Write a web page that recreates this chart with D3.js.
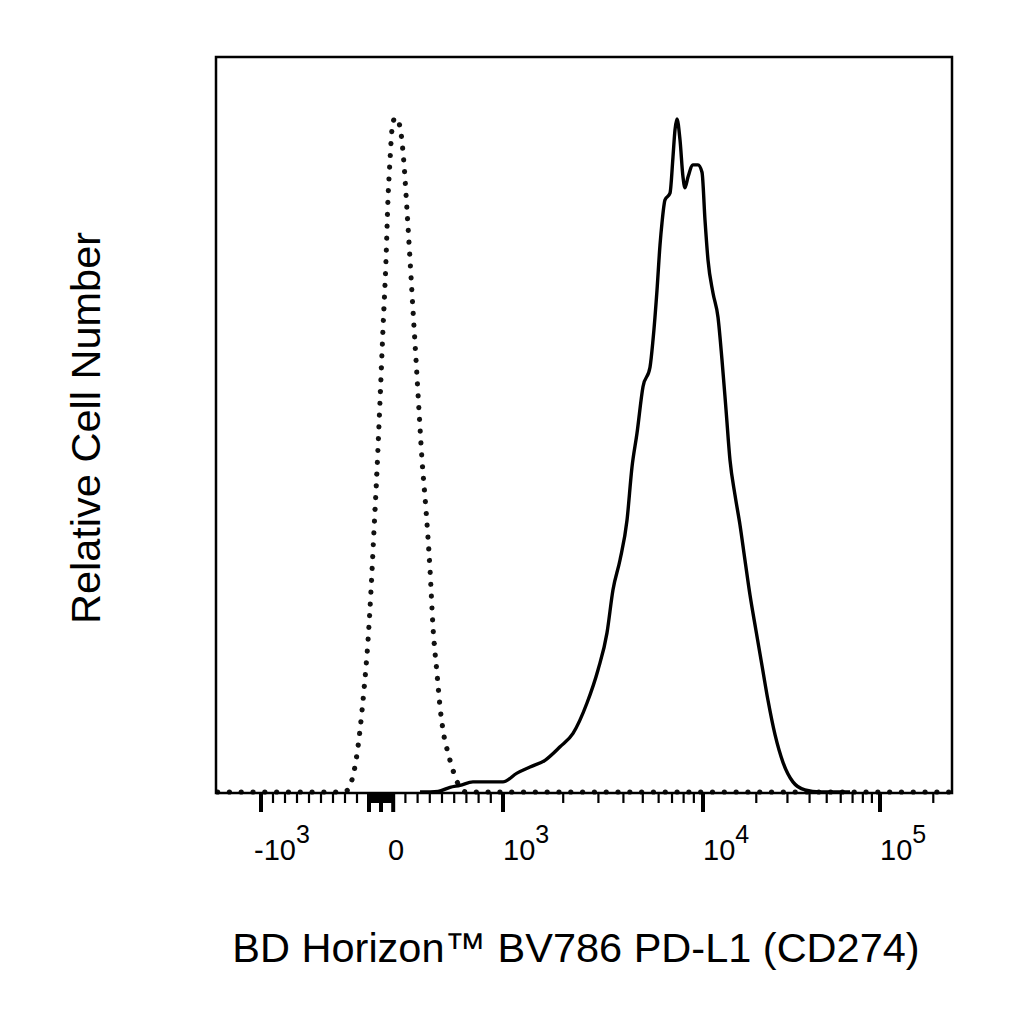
<!DOCTYPE html>
<html>
<head>
<meta charset="utf-8">
<script src="https://cdn.jsdelivr.net/npm/d3@7"></script>
<style>
  body { margin: 0; background: #fff; }
  svg { display: block; }
  text { font-family: "Liberation Sans", Arial, sans-serif; fill: #000; }
</style>
</head>
<body>
<div class="chart"></div>
<script>
// isotype control (dotted)
const isoX = [-2300, -342, -275, -242, -208, -175, -142, -108, -83, -58, -33, -8, 16, 41, 57, 74, 90, 115,
  139, 164, 189, 213, 238, 262, 287, 311, 336, 369, 402, 426, 459, 484, 508, 549, 582, 615, 648, 697, 811, 250000];
const isoY = [0, 0, 0.3, 1.8, 4.7, 9.2, 15.1, 22.5, 30.0, 38.9, 47.8, 58.1, 68.5, 78.9, 87.8, 93.7, 98.2, 100,
  99.6, 97.7, 93.0, 86.3, 78.9, 71.5, 64.1, 56.7, 49.3, 41.8, 32.9, 24.5, 17.6, 12.6, 9.2, 5.8, 3.7, 1.9, 0.7, 0, 0, 0];

// PD-L1 stained (solid)
const pdX = [320, 467, 566, 648, 754, 1000, 1175, 1365, 1622, 1928, 2239, 2630, 2985, 3311, 3548, 3846, 4169,
  4416, 4677, 5012, 5433, 5623, 5888, 6095, 6237, 6457, 6839, 7079, 7244, 7413, 7674, 7943, 8128, 8414, 8913,
  9441, 9886, 10264, 10672, 11388, 12155, 12800, 13490, 14210, 15170, 16180, 17260, 18430, 19910, 21530,
  23290, 25520, 28310, 32210, 37680, 45810, 67700];
const pdY = [0, 0.1, 0.7, 1.0, 1.5, 1.5, 2.8, 3.7, 4.7, 6.7, 8.7, 13.2, 18.1, 23.6, 30.0, 34.4, 40.3,
  48.2, 53.2, 60.1, 63.0, 67.0, 74.4, 81.1, 84.4, 87.8, 88.8, 94.2, 98.2, 99.8, 96.7, 91.2, 89.6, 91.2, 93.0,
  93.0, 91.9, 84.8, 78.9, 74.0, 70.4, 64.1, 56.7, 49.2, 44.0, 39.6, 34.4, 29.2, 24.0, 18.8,
  13.6, 8.5, 4.4, 1.5, 0.3, 0, 0];

const majorTicks = [-1000, -100, 0, 100, 1000, 10000, 100000];
const minorTicks = [-900, -800, -700, -600, -500, -400, -300, -200,
  -90, -80, -70, -60, -50, -40, -30, -20, -10, 10, 20, 30, 40, 50, 60, 70, 80, 90,
  200, 300, 400, 500, 600, 700, 800, 900,
  2000, 3000, 4000, 5000, 6000, 7000, 8000, 9000,
  20000, 30000, 40000, 50000, 60000, 70000, 80000, 90000, 200000];
const tickLabels = [
  { v: -1000, base: '-10', sup: '3' },
  { v: 0, base: '0', sup: '' },
  { v: 1000, base: '10', sup: '3' },
  { v: 10000, base: '10', sup: '4' },
  { v: 100000, base: '10', sup: '5' }
];

const xTitle = 'BD Horizon\u2122 BV786 PD-L1 (CD274)';
const yTitle = 'Relative Cell Number';

const w = 1024;
const h = 1024;
const frame = { left: 216, right: 952, top: 57, bottom: 793 };

// biexponential-like display: linear inside +-10^3, log decades outside
function biex(v) {
  const a = Math.abs(v);
  const t = a <= 1000 ? a / 1000 : 1 + Math.log10(a / 1000);
  return v < 0 ? -t : t;
}

const xScale = d3.scaleLinear()
                 .domain([-1, 0, 1, 2, 3])
                 .range([261, 381, 503, 703, 880]);
const x = v => xScale(biex(v));

const yScale = d3.scaleLinear()
                 .domain([0, 109])
                 .range([frame.bottom - 1, frame.top]);

const svg = d3.select('.chart')
              .append('svg')
              .attr('width', w)
              .attr('height', h);

svg.append('defs').append('clipPath')
   .attr('id', 'plot')
   .append('rect')
   .attr('x', frame.left)
   .attr('y', frame.top)
   .attr('width', frame.right - frame.left)
   .attr('height', frame.bottom - frame.top + 2);

const line = d3.line()
               .x(d => x(d[0]))
               .y(d => yScale(d[1]))
               .curve(d3.curveMonotoneX);

svg.append('path')
   .datum(d3.zip(isoX, isoY))
   .attr('clip-path', 'url(#plot)')
   .attr('d', line)
   .attr('fill', 'none')
   .attr('stroke', '#111')
   .attr('stroke-width', 5.2)
   .attr('stroke-linecap', 'round')
   .attr('stroke-dasharray', '0.01 11.8');

svg.append('path')
   .datum(d3.zip(pdX, pdY))
   .attr('clip-path', 'url(#plot)')
   .attr('d', line)
   .attr('fill', 'none')
   .attr('stroke', '#000')
   .attr('stroke-width', 3.4)
   .attr('stroke-linejoin', 'round');

svg.append('rect')
   .attr('x', frame.left)
   .attr('y', frame.top)
   .attr('width', frame.right - frame.left)
   .attr('height', frame.bottom - frame.top)
   .attr('fill', 'none')
   .attr('stroke', '#000')
   .attr('stroke-width', 2.5);

// ticks
svg.append('g')
   .selectAll('line')
   .data(minorTicks)
   .enter()
   .append('line')
   .attr('x1', d => x(d))
   .attr('x2', d => x(d))
   .attr('y1', frame.bottom)
   .attr('y2', frame.bottom + 10)
   .attr('stroke', '#000')
   .attr('stroke-width', 2.2);

svg.append('g')
   .selectAll('line')
   .data(majorTicks)
   .enter()
   .append('line')
   .attr('x1', d => x(d))
   .attr('x2', d => x(d))
   .attr('y1', frame.bottom)
   .attr('y2', frame.bottom + 19)
   .attr('stroke', '#000')
   .attr('stroke-width', 4);

const labels = svg.append('g')
                  .selectAll('text')
                  .data(tickLabels)
                  .enter()
                  .append('text')
                  .attr('x', d => x(d.v) + (d.v < 0 ? -7 : d.v === 0 ? 7 : 0))
                  .attr('y', 860)
                  .style('font-size', '29px');

labels.append('tspan')
      .text(d => d.base);

labels.append('tspan')
      .attr('dy', -17)
      .style('font-size', '25px')
      .text(d => d.sup);

svg.append('text')
   .attr('x', 576)
   .attr('y', 962)
   .style('text-anchor', 'middle')
   .style('font-size', '41.5px')
   .text(xTitle);

svg.append('text')
   .attr('transform', 'rotate(-90)')
   .attr('x', -428)
   .attr('y', 100)
   .style('text-anchor', 'middle')
   .style('font-size', '41.5px')
   .text(yTitle);
</script>
</body>
</html>
